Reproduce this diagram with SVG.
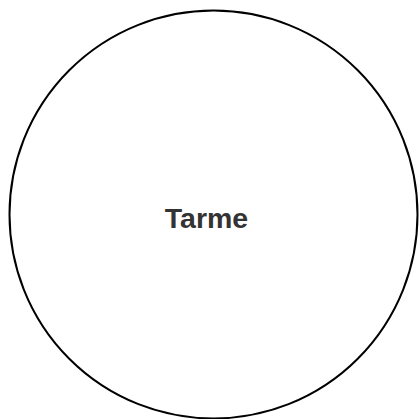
<svg xmlns="http://www.w3.org/2000/svg" width="419" height="419" viewBox="0 0 419 419">
<style>
.node-shape{fill:#ffffff;stroke:#000000;stroke-width:2}
.node-label{font-family:"Liberation Sans",Arial,sans-serif;font-weight:bold;font-size:28.5px;fill:#333333;text-anchor:middle}
</style>
<rect width="419" height="419" fill="#ffffff"/>
<g id="connectors"></g>
<g id="node-tarme">
<circle class="node-shape" cx="213.5" cy="214.5" r="204"/>
<text class="node-label" x="206.5" y="227.5">Tarme</text>
</g>
</svg>
